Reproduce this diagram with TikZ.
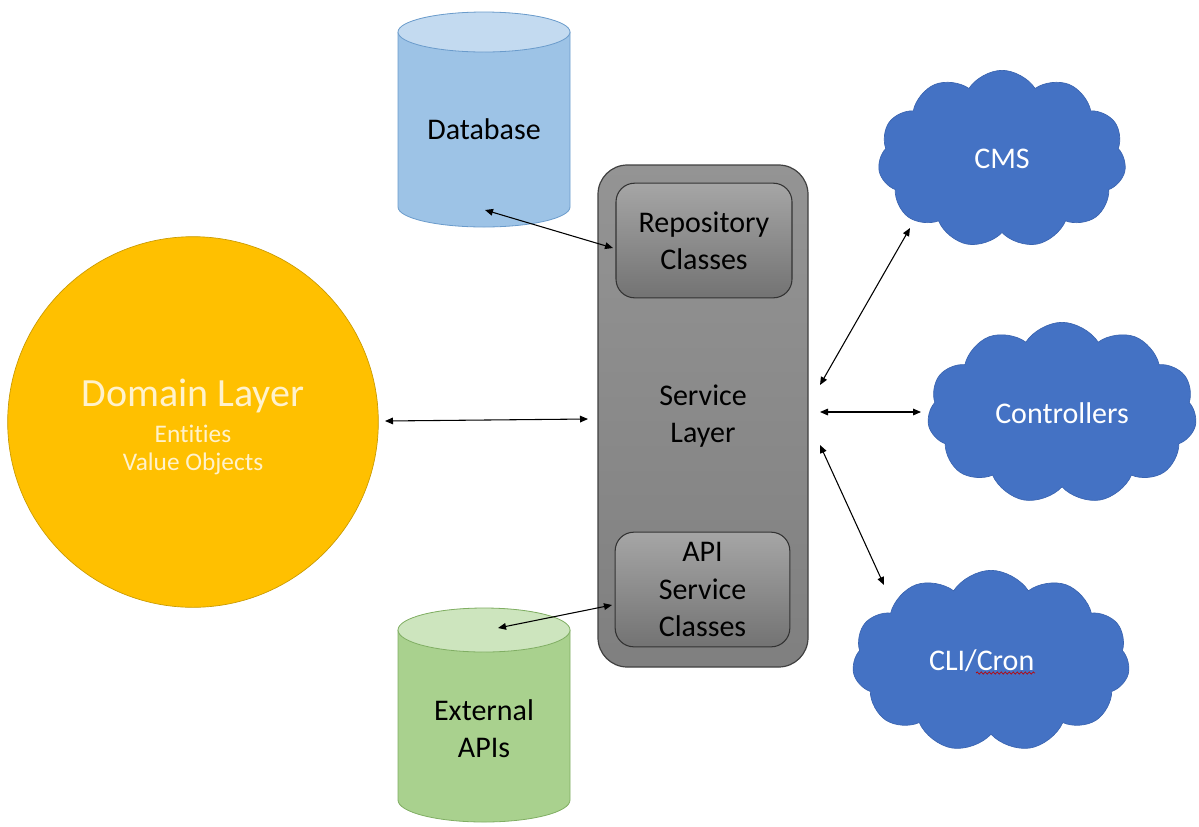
\documentclass[tikz,border=0pt]{standalone}
\usepackage{fontspec}
\setmainfont[RawFeature=-liga]{Carlito}
\usetikzlibrary{shapes.symbols,arrows.meta,decorations.pathmorphing}
\definecolor{gold}{HTML}{FFC000}
\definecolor{goldline}{HTML}{C99A00}
\definecolor{cream}{HTML}{FFF2CC}
\definecolor{dbbody}{HTML}{9DC3E6}
\definecolor{dbtop}{HTML}{C3DAF0}
\definecolor{dbline}{HTML}{6A9BCB}
\definecolor{apibody}{HTML}{A9D18E}
\definecolor{apitop}{HTML}{CDE5BE}
\definecolor{apiline}{HTML}{80AE63}
\definecolor{cloudblue}{HTML}{4472C4}
\definecolor{cloudline}{HTML}{3A64B0}
\tikzset{
  conn/.style={{Triangle[length=6pt,width=5pt]}-{Triangle[length=6pt,width=5pt]}, line width=0.8pt, black},
  txt/.style={font=\fontsize{22.5}{28}\selectfont, align=center},
  cloudnode/.style={cloud, cloud puffs=11, cloud puff arc=115, fill=cloudblue, draw=cloudline, line width=0.5pt, text=white, font=\fontsize{22.5}{28}\selectfont},
  outerbox/.style={draw=black!75, line width=0.9pt, rounded corners=22pt, top color=black!42, bottom color=black!50},
  innerbox/.style={draw=black!80, line width=0.8pt, rounded corners=14pt, top color=black!35, bottom color=black!55},
}
\begin{document}
\begin{tikzpicture}[x=0.75pt,y=-0.75pt]
\useasboundingbox (0,0) rectangle (1199,826);

% Domain layer
\node[circle, fill=gold, draw=goldline, line width=0.5pt, minimum size=278pt] (dom) at (193,422) {};
\node[text=cream, align=center, font=\fontsize{19}{21}\selectfont] (domtxt) at (193,427)
  {{\fontsize{30}{36}\selectfont Domain Layer}\\[6pt] Entities\\ Value Objects};

% Database cylinder
\fill[dbbody] (398,32) -- (398,207) arc[start angle=180,end angle=0,x radius=86,y radius=20]
   -- (570,32) arc[start angle=0,end angle=-180,x radius=86,y radius=20] -- cycle;
\draw[dbline, line width=0.6pt] (398,32) -- (398,207) arc[start angle=180,end angle=0,x radius=86,y radius=20] -- (570,32);
\filldraw[fill=dbtop, draw=dbline, line width=0.6pt] (484,32) ellipse[x radius=86, y radius=20];
\node[txt, minimum width=129pt] (db) at (484,129) {Database};

% External APIs cylinder
\fill[apibody] (398,630) -- (398,800) arc[start angle=180,end angle=0,x radius=86,y radius=22]
   -- (570,630) arc[start angle=0,end angle=-180,x radius=86,y radius=22] -- cycle;
\draw[apiline, line width=0.6pt] (398,630) -- (398,800) arc[start angle=180,end angle=0,x radius=86,y radius=22] -- (570,630);
\filldraw[fill=apitop, draw=apiline, line width=0.6pt] (484,630) ellipse[x radius=86, y radius=22];
\node[txt] (ext) at (484,729) {External\\APIs};

% Service layer
\node[outerbox, minimum width=157.5pt, minimum height=376.5pt, txt] (svc) at (703,416) {Service\\Layer};
\node[innerbox, minimum width=132pt, minimum height=86pt, txt] (repo) at (704,240.5) {Repository\\Classes};
\node[innerbox, minimum width=131pt, minimum height=86pt, txt] (apis) at (702.5,589.5) {API\\Service\\Classes};

% Clouds
\node[cloudnode, aspect=1.4, minimum width=186pt, minimum height=133pt] (cms) at (1002,159) {CMS};
\node[cloudnode, aspect=1.48, minimum width=202pt, minimum height=136pt] (ctrl) at (1062,413) {Controllers};
\node[cloudnode, aspect=1.52, minimum width=208pt, minimum height=136pt] (cli) at (991,661) {CLI/Cron\hspace*{14pt}};
\draw[red!75!black, line width=0.5pt, decorate, decoration={snake, amplitude=0.8pt, segment length=3pt}] (976,673) -- (1035,673);

% connector endpoints
\coordinate (dbp) at (485,210);
\coordinate (repop) at (613,248);
\coordinate (domp) at (385,421);
\coordinate (svcl) at (588,419);
\coordinate (extp) at (498,628);
\coordinate (apip) at (612,605);
\coordinate (r1) at (820,385);
\coordinate (cmsp) at (910,228);
\coordinate (r2) at (820,412);
\coordinate (ctrlp) at (921,412);
\coordinate (r3) at (820,445);
\coordinate (clip) at (884,585);

\draw[conn] (dbp) -- (repop);
\draw[conn] (domp) -- (svcl);
\draw[conn] (extp) -- (apip);
\draw[conn] (r1) -- (cmsp);
\draw[conn] (r2) -- (ctrlp);
\draw[conn] (r3) -- (clip);
\end{tikzpicture}
\end{document}
